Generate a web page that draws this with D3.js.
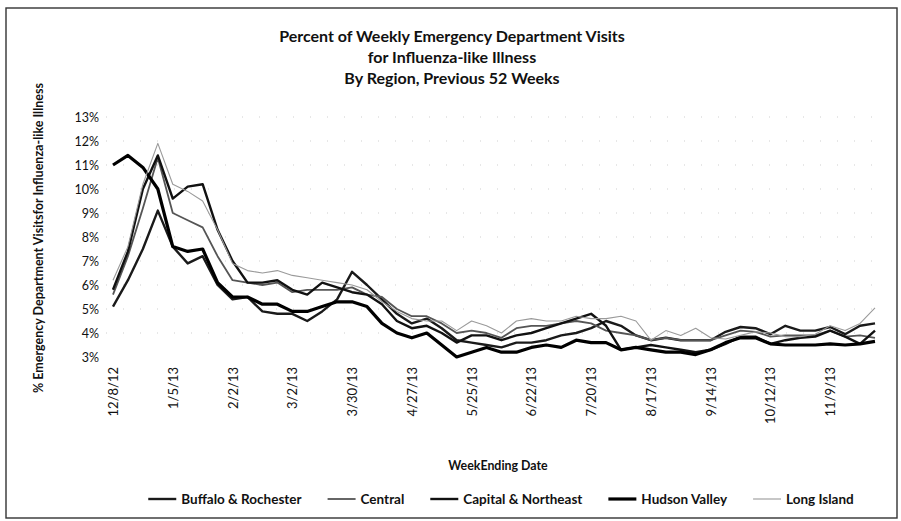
<!DOCTYPE html>
<html>
<head>
<meta charset="utf-8">
<script src="https://cdn.jsdelivr.net/npm/d3@7/dist/d3.min.js"></script>
<style>
  body { margin: 0; background: #fff; }
  svg { display: block; }
</style>
</head>
<body>
<div id="chart"></div>
<script>
// Week ending dates (categories)
var weeks = ["12/8/12","12/15/12","12/22/12","12/29/12","1/5/13","1/12/13","1/19/13","1/26/13",
  "2/2/13","2/9/13","2/16/13","2/23/13","3/2/13","3/9/13","3/16/13","3/23/13","3/30/13",
  "4/6/13","4/13/13","4/20/13","4/27/13","5/4/13","5/11/13","5/18/13","5/25/13",
  "6/1/13","6/8/13","6/15/13","6/22/13","6/29/13","7/6/13","7/13/13","7/20/13","7/27/13",
  "8/3/13","8/10/13","8/17/13","8/24/13","8/31/13","9/7/13","9/14/13","9/21/13","9/28/13",
  "10/5/13","10/12/13","10/19/13","10/26/13","11/2/13","11/9/13","11/16/13","11/23/13","11/30/13"];

var tickWeeks = ["12/8/12","1/5/13","2/2/13","3/2/13","3/30/13","4/27/13","5/25/13",
  "6/22/13","7/20/13","8/17/13","9/14/13","10/12/13","11/9/13"];

var yTicks = [3,4,5,6,7,8,9,10,11,12,13];

// Percent of ED visits, one value per week
var buffaloRochester = [5.1,6.2,7.5,9.1,7.6,6.9,7.2,6.0,5.4,5.5,4.9,4.8,4.8,4.5,4.9,5.4,6.55,
  6.0,5.4,4.8,4.4,4.6,4.2,3.7,3.6,3.5,3.4,3.6,3.6,3.7,3.9,4.0,4.2,4.5,4.3,3.9,3.7,3.8,3.7,3.7,
  3.7,4.05,4.25,4.2,3.95,4.3,4.1,4.1,4.25,3.95,4.3,4.4];
var central = [5.6,7.2,9.2,11.3,9.0,8.7,8.4,7.2,6.2,6.1,6.0,6.1,5.7,5.8,5.8,5.8,5.9,
  5.6,5.5,5.0,4.7,4.7,4.4,4.0,4.1,4.0,3.8,4.2,4.3,4.3,4.4,4.5,4.4,4.1,4.0,3.9,3.7,3.8,3.7,3.7,
  3.7,3.9,4.1,4.05,3.85,3.9,3.9,3.9,4.1,3.85,3.9,3.8];
var capitalNortheast = [5.8,7.4,10.0,11.4,9.6,10.1,10.2,8.3,7.0,6.1,6.1,6.2,5.8,5.6,6.1,5.9,5.7,
  5.6,5.2,4.5,4.2,4.3,4.0,3.6,3.9,3.9,3.7,3.9,4.0,4.2,4.4,4.6,4.8,4.3,3.3,3.4,3.5,3.4,3.3,3.2,
  3.3,3.55,3.85,3.85,3.55,3.7,3.8,3.85,4.1,3.85,3.55,4.1];
var hudsonValley = [11.0,11.4,10.9,10.0,7.6,7.4,7.5,6.1,5.5,5.5,5.2,5.2,4.9,4.9,5.1,5.3,5.3,
  5.1,4.4,4.0,3.8,4.0,3.5,3.0,3.2,3.4,3.2,3.2,3.4,3.5,3.4,3.7,3.6,3.6,3.3,3.4,3.3,3.2,3.2,3.1,
  3.3,3.6,3.8,3.8,3.55,3.5,3.5,3.5,3.55,3.5,3.55,3.65];
var longIsland = [6.2,7.6,10.2,11.9,10.2,9.9,9.5,8.3,6.9,6.6,6.5,6.6,6.4,6.3,6.2,6.1,6.0,
  5.8,5.3,4.9,4.6,4.5,4.5,4.1,4.5,4.3,4.0,4.5,4.6,4.5,4.5,4.7,4.6,4.6,4.7,4.5,3.7,4.1,3.9,4.2,
  3.8,3.75,3.9,4.05,4.0,3.85,3.85,3.95,4.3,4.1,4.4,5.05];

var seriesNames = ["Buffalo & Rochester","Central","Capital & Northeast","Hudson Valley","Long Island"];
var seriesValues = [buffaloRochester, central, capitalNortheast, hudsonValley, longIsland];

var W = 901, H = 521,
    font_family = "Lato, 'Open Sans', sans-serif";

// line looks (scanned grey scale)
var strokes = ["#1a1a1a","#555","#111","#000","#9a9a9a"],
    widths  = [2.4, 1.8, 2.4, 3.2, 1.1];

var xScale = d3.scalePoint().domain(weeks).range([113, 875]),
    yScale = d3.scaleLinear().domain([3, 13]).range([357, 117]);

var svg = d3.select("#chart").append("svg")
  .attr("width", W)
  .attr("height", H);

// chart border
svg.append("rect")
  .attr("x", 6).attr("y", 8)
  .attr("width", 891).attr("height", 510)
  .attr("fill", "none")
  .attr("stroke", "#333")
  .attr("stroke-width", 1.4);

// title
var titleLines = ["Percent of Weekly Emergency Department Visits",
  "for Influenza-like Illness", "By Region, Previous 52 Weeks"];
svg.append("g").selectAll("text")
  .data(titleLines)
  .enter().append("text")
    .attr("x", 452)
    .attr("y", function(d, i) { return 42 + i * 21; })
    .attr("text-anchor", "middle")
    .attr("font-family", font_family)
    .attr("font-weight", "bold")
    .attr("font-size", "16px")
    .attr("fill", "#111")
    .text(function(d) { return d; });

// faint gridlines
svg.append("g")
  .selectAll("line")
  .data(yTicks.slice(1))
  .enter().append("line")
    .attr("x1", 106).attr("x2", 882)
    .attr("y1", function(d) { return yScale(d); })
    .attr("y2", function(d) { return yScale(d); })
    .attr("stroke", "#cfcfcf")
    .attr("stroke-width", 1)
    .attr("stroke-dasharray", "1,16");

// y axis
var yAxis = svg.append("g")
  .attr("transform", "translate(106,0)")
  .call(d3.axisLeft(yScale).tickValues(yTicks).tickSize(0).tickPadding(7)
    .tickFormat(function(d) { return d + "%"; }));
yAxis.select(".domain").remove();
yAxis.selectAll("text")
  .attr("font-family", font_family)
  .attr("font-size", "12.5px")
  .attr("fill", "#111");

// x axis
var xAxis = svg.append("g")
  .attr("transform", "translate(0,357)")
  .call(d3.axisBottom(xScale).tickValues(tickWeeks).tickSize(0));
xAxis.select(".domain").remove();
xAxis.selectAll("text")
  .attr("font-family", font_family)
  .attr("font-size", "13px")
  .attr("fill", "#111")
  .style("text-anchor", "end")
  .attr("x", -10)
  .attr("y", 0)
  .attr("dy", ".35em")
  .attr("transform", "rotate(-90)");

// axis titles
svg.append("text")
  .attr("transform", "translate(43,238) rotate(-90)")
  .attr("text-anchor", "middle")
  .attr("font-family", font_family)
  .attr("font-weight", "bold")
  .attr("font-size", "12.5px")
  .attr("fill", "#111")
  .text("% Emergency Department Visitsfor Influenza-like Illness");

svg.append("text")
  .attr("x", 498).attr("y", 470)
  .attr("text-anchor", "middle")
  .attr("font-family", font_family)
  .attr("font-weight", "bold")
  .attr("font-size", "12.4px")
  .attr("fill", "#111")
  .text("WeekEnding Date");

// lines
var line = d3.line()
  .x(function(d, i) { return xScale(weeks[i]); })
  .y(function(d) { return yScale(d); });

svg.append("g")
  .selectAll("path")
  .data(seriesValues)
  .enter().append("path")
    .attr("d", line)
    .attr("fill", "none")
    .attr("stroke", function(d, i) { return strokes[i]; })
    .attr("stroke-width", function(d, i) { return widths[i]; })
    .attr("stroke-linejoin", "round");

// legend
var legend = svg.append("g").attr("class", "legend");
var item = legend.selectAll("g")
  .data(seriesNames)
  .enter().append("g");
item.append("line")
  .attr("x1", 0).attr("x2", 28)
  .attr("y1", 0).attr("y2", 0)
  .attr("stroke", function(d, i) { return strokes[i]; })
  .attr("stroke-width", function(d, i) { return widths[i]; });
item.append("text")
  .attr("x", 33).attr("y", 0)
  .attr("dy", ".35em")
  .attr("font-family", font_family)
  .attr("font-weight", "bold")
  .attr("font-size", "13.5px")
  .attr("fill", "#111")
  .text(function(d) { return d; });

var pos = 0, offsets = [];
item.each(function(d, i) {
  offsets.push(pos);
  pos += 33 + this.querySelector("text").getComputedTextLength() + 26;
});
var legendWidth = pos - 26;
item.attr("transform", function(d, i) { return "translate(" + offsets[i] + ",0)"; });
legend.attr("transform", "translate(" + (501 - legendWidth / 2) + ",499)");
</script>
</body>
</html>
